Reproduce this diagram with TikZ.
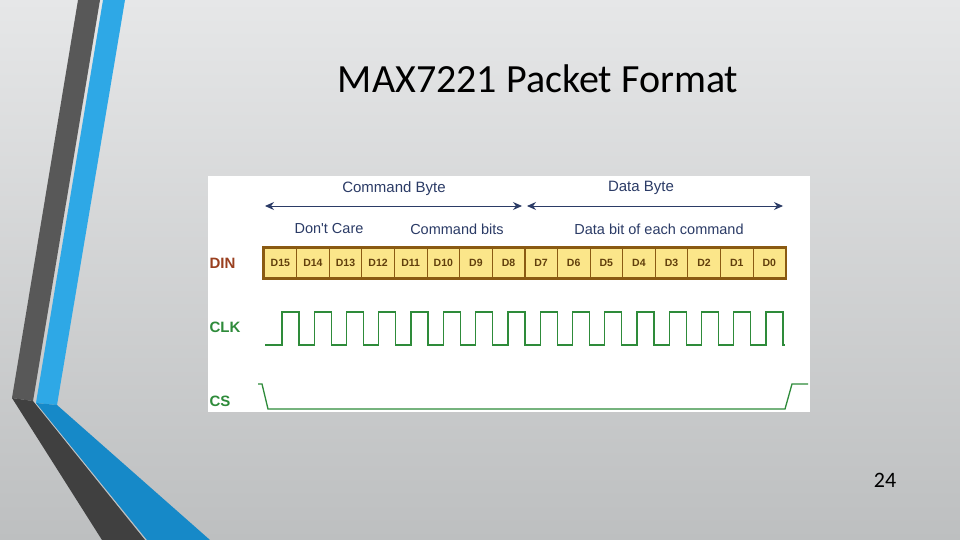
\documentclass[tikz,border=0pt]{standalone}
\usepackage{fontspec}
\setmainfont{Carlito}
\newfontfamily\arial{Liberation Sans}
\usetikzlibrary{arrows.meta}
\definecolor{bgA}{HTML}{E6E7E8}
\definecolor{bgB}{HTML}{BDBFC0}
\definecolor{graybar}{HTML}{585858}
\definecolor{graybarD}{HTML}{404040}
\definecolor{bluebar}{HTML}{2EA8E6}
\definecolor{bluebarD}{HTML}{1689C8}
\definecolor{cellfill}{HTML}{FBE68A}
\definecolor{cellbrd}{HTML}{8A5A12}
\definecolor{sig}{HTML}{2E8B3A}
\definecolor{lbl}{HTML}{2B3B66}
\definecolor{din}{HTML}{9A4020}
\begin{document}
\begin{tikzpicture}[x=1pt,y=-1pt,
  lab/.style={font=\arial\fontsize{14.5}{17}\selectfont, text=lbl},
  sig lab/.style={font=\arial\bfseries\fontsize{15}{18}\selectfont, anchor=west},
  cell/.style={draw=cellbrd, line width=0.8pt, fill=cellfill, minimum width=32.6pt, minimum height=30pt, inner sep=0pt, font=\arial\bfseries\fontsize{10.5}{12}\selectfont, text=cellbrd!70!black},
  span/.style={lbl, line width=1pt, {Stealth[length=9pt,width=8pt]}-{Stealth[length=9pt,width=8pt]}},
  wave/.style={sig, line width=1.3pt}]
\useasboundingbox (0,0) rectangle (960,540);
\shade[top color=bgA, bottom color=bgB] (0,0) rectangle (960,540);
% decorative bars
\fill[graybar] (78,0) -- (100,0) -- (33,401) -- (12,398) -- cycle;
\fill[bluebar] (103,0) -- (125,0) -- (57,405) -- (36,403) -- cycle;
\fill[graybarD] (12,398) -- (33,401) -- (145,540) -- (102,540) -- cycle;
\fill[bluebarD] (36,403) -- (57,405) -- (210,540) -- (147,540) -- cycle;
% title
\node (title) at (538,79) {\fontsize{40}{46}\selectfont MAX7221 Packet Format};
\node (pg) at (885,480) {\fontsize{22}{26}\selectfont 24};
% diagram panel
\fill[white] (208,176) rectangle (810,412);
\node[lab, font=\arial\fontsize{15}{18}\selectfont] (cb) at (394,189) {Command Byte};
\node[lab, font=\arial\fontsize{15}{18}\selectfont] (db) at (641,188) {Data Byte};
\coordinate (a1) at (265,206); \coordinate (a2) at (522,206);
\coordinate (b1) at (527,206); \coordinate (b2) at (783,206);
\draw[span] (a1) -- (a2);
\draw[span] (b1) -- (b2);
\node[lab] (dc) at (329,229) {Don't Care};
\node[lab] (cbits) at (457,229) {Command bits};
\node[lab] (dbits) at (659,229) {Data bit of each command};
\node[sig lab, text=din] (dinl) at (206,263) {DIN};
\node[sig lab, text=sig] (clkl) at (206,327) {CLK};
\node[sig lab, text=sig] (csl) at (206,401) {CS};
% cells
\foreach \i [evaluate=\i as \n using int(15-\i)] in {0,...,15}{
  \node[cell] (c\i) at ({264+16.3+\i*32.6},263) {D\n};
}
\draw[cellbrd, line width=2.8pt] (c0.north west) rectangle (c15.south east);
\draw[cellbrd, line width=2.2pt] (c7.north east) -- (c7.south east);
% clock
\draw[wave] (265,345)
  \foreach \k in {0,...,15}{ -- ({282+\k*32.27},345) -- ({282+\k*32.27},312) -- ({299+\k*32.27},312) -- ({299+\k*32.27},345) }
  -- (785,345);
% chip select
\draw[wave] (258,384) -- (262,384) -- (268,409) -- (785,409) -- (792,384) -- (808,384);
\end{tikzpicture}
\end{document}
